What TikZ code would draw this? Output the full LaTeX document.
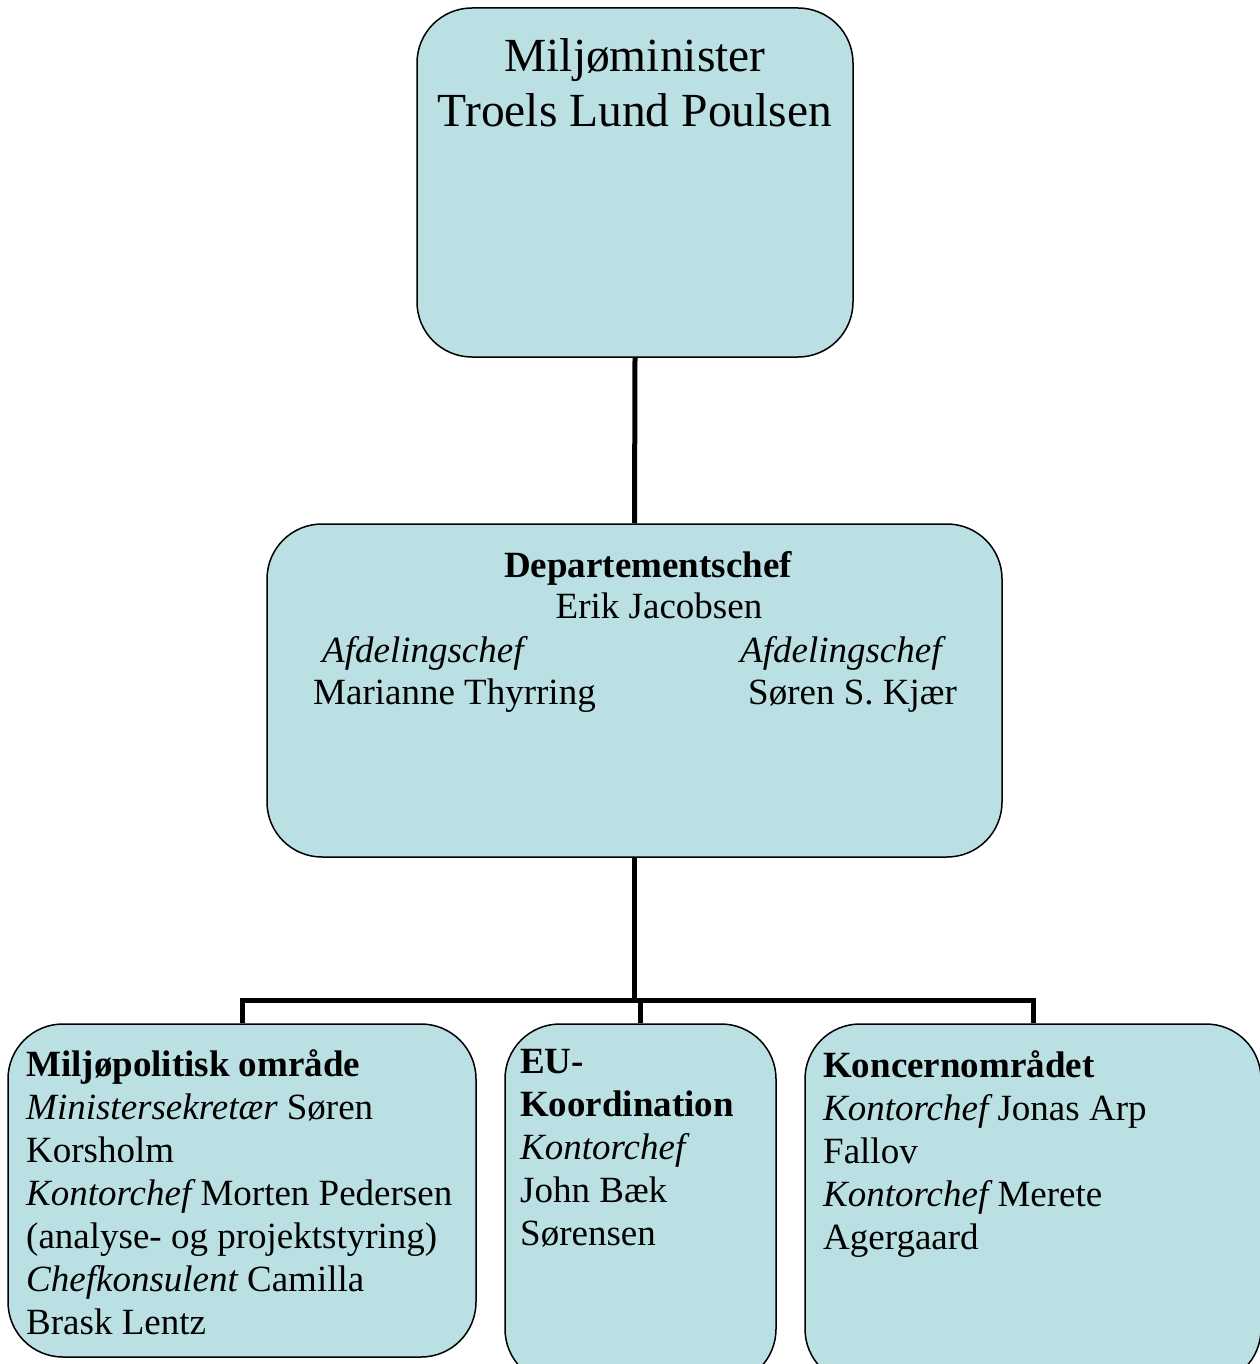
\documentclass[tikz,border=0pt]{standalone}
\usepackage{fontspec}
\setmainfont{Liberation Serif}
\usepackage{tikz}
\definecolor{boxblue}{RGB}{187,224,227}
\tikzset{
	orgbox/.style={draw=black, line width=1.5pt, fill=boxblue, rounded corners=55pt, inner sep=0pt},
	conn/.style={line width=5pt, line join=miter},
	bigtxt/.style={font=\fontsize{47.5}{55}\selectfont, inner sep=0pt, anchor=base},
	depttxt/.style={font=\fontsize{37}{42}\selectfont, inner sep=0pt, anchor=base},
	unittxt/.style={font=\fontsize{37}{43}\selectfont, inner sep=0pt, align=left, anchor=base west},
}

\begin{document}
\begin{tikzpicture}[x=1pt, y=-1pt]
			\useasboundingbox (0,0) rectangle (1259,1364);
			%%%%% BOXES %%%%%
			
			\node[orgbox, minimum width=436pt, minimum height=349pt] (minister) at (635, 182.5) {};
			\node[orgbox, minimum width=735pt, minimum height=333pt] (dept) at (634.5, 690.5) {};
			\node[orgbox, minimum width=468pt, minimum height=333pt] (miljo) at (242, 1190.5) {};
			\node[orgbox, minimum width=271pt, minimum height=360pt] (eu) at (640.5, 1204) {};
			\node[orgbox, minimum width=456pt, minimum height=360pt] (koncern) at (1033, 1204) {};
			
			%%%%% LINES %%%%%
			
			\coordinate (bus) at (634.5, 1000);
			\draw[conn] (minister.south) -- (dept.north);
			\draw[conn] (dept.south) -- (bus);
			\draw[conn] (miljo.north) |- (bus) -| (koncern.north);
			\draw[conn] (eu.north) -- (eu.north |- bus);
			
			%%%%% TEXT %%%%%
			
			\node[bigtxt] (ministerrole) at (635, 72) {Miljøminister};
			\node[bigtxt] (ministername) at (635, 127) {Troels Lund Poulsen};
			
			\node[depttxt] (depthead) at (648, 577) {\bfseries Departementschef};
			\node[depttxt] (deptname) at (659, 618) {Erik Jacobsen};
			\node[depttxt, anchor=base west] (afdrolea) at (322, 662) {\itshape Afdelingschef};
			\node[depttxt, anchor=base west] (afdroleb) at (740, 662) {\itshape Afdelingschef};
			\node[depttxt, anchor=base west] (afdnamea) at (313, 704) {Marianne Thyrring};
			\node[depttxt, anchor=base west] (afdnameb) at (748, 704) {Søren S. Kjær};
			
			% anchored at the baseline of the last line
			\node[unittxt] (miljotxt) at (26, 1334) {{\bfseries Miljøpolitisk område}\\
				{\itshape Ministersekretær} Søren\\
				Korsholm\\
				{\itshape Kontorchef} Morten Pedersen\\
				(analyse- og projektstyring)\\
				{\itshape Chefkonsulent} Camilla\\
				Brask Lentz};
			\node[unittxt] (eutxt) at (520, 1245) {{\bfseries EU-}\\
				{\bfseries Koordination}\\
				{\itshape Kontorchef}\\
				John Bæk\\
				Sørensen};
			\node[unittxt] (koncerntxt) at (823, 1249) {{\bfseries Koncernområdet}\\
				{\itshape Kontorchef} Jonas Arp\\
				Fallov\\
				{\itshape Kontorchef} Merete\\
				Agergaard};
			
			%%%%% END %%%%%
\end{tikzpicture}
\end{document}
